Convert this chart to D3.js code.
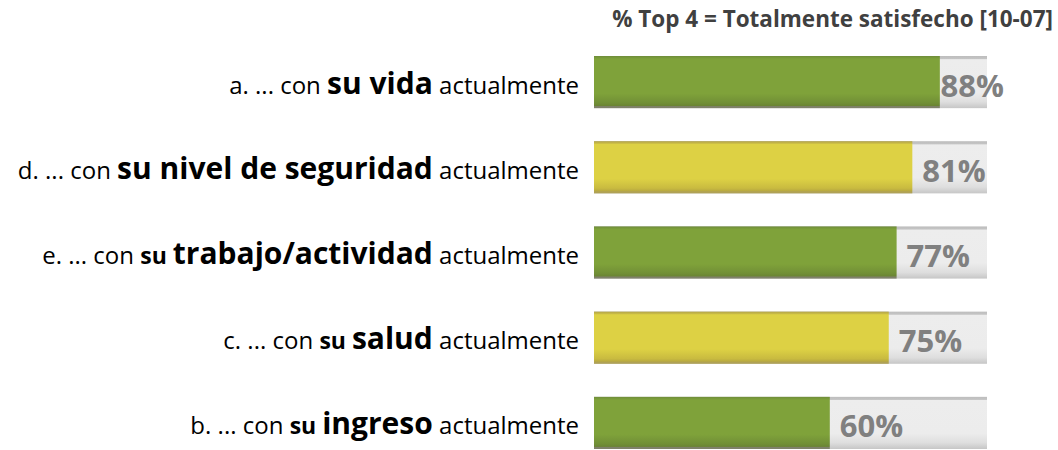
<!DOCTYPE html>
<html><head><meta charset="utf-8">
<script src="https://cdn.jsdelivr.net/npm/d3@7"></script>
<style>body{margin:0;background:#fff}svg{display:block}</style>
</head><body>
<svg id="c" width="1058" height="450"></svg>
<script>
const ids = ["a", "d", "e", "c", "b"];
const prefixes = ["a. ... con ", "d. ... con ", "e. ... con ", "c. ... con ", "b. ... con "];
const smallSu = ["", "", "su ", "su ", "su "];
const keywords = ["su vida", "su nivel de seguridad", "trabajo/actividad", "salud", "ingreso"];
const suffix = " actualmente";
const values = [88, 81, 77, 75, 60];
const groups = ["green", "yellow", "green", "yellow", "green"];
const title = "% Top 4 = Totalmente satisfecho [10-07]";

const svg = d3.select("#c");
const FONT = "'Open Sans', sans-serif";
const x = d3.scaleLinear().domain([0, 100]).range([594, 987]);
const y = d3.scaleBand().domain(ids).range([56, 449]).paddingInner(0.388).paddingOuter(0);
const data = ids.map((id, i) => ({id, i, v: values[i], g: groups[i]}));

const defs = svg.append("defs");
function grad(id, stops) {
  const g = defs.append("linearGradient").attr("id", id).attr("x1", 0).attr("x2", 0).attr("y1", 0).attr("y2", 1);
  stops.forEach(s => g.append("stop").attr("offset", s[0]).attr("stop-color", s[1]));
}
grad("gTrack", [[0, "#bdbdbd"], [0.05, "#c4c4c4"], [0.07, "#ededed"], [0.7, "#ececec"], [0.88, "#dedede"], [1, "#c6c6c6"]]);
grad("gGreen", [[0, "#6f8c3a"], [0.04, "#7a9c3a"], [0.06, "#7fa23a"], [0.72, "#7fa23a"], [0.9, "#718f36"], [0.95, "#6b8534"], [0.97, "#7f816a"], [1, "#7f816a"]]);
grad("gYellow", [[0, "#b3a44a"], [0.04, "#c8ba46"], [0.06, "#ddd144"], [0.72, "#ddd144"], [0.9, "#c9bb40"], [0.95, "#b9aa40"], [0.97, "#b0a255"], [1, "#b0a255"]]);

// title
const t = svg.append("text").attr("x", 1053).attr("y", 27).attr("text-anchor", "end")
  .attr("font-family", FONT).attr("font-weight", 700).attr("font-size", 18).attr("fill", "#404040").text(title);
const tw = t.node().getComputedTextLength();
t.attr("font-size", 18 * 441 / tw);

// tracks
svg.selectAll("rect.track").data(data).join("rect").attr("class", "track")
  .attr("x", x(0)).attr("y", d => y(d.id)).attr("width", x(100) - x(0)).attr("height", y.bandwidth())
  .attr("fill", "url(#gTrack)");
// bars
svg.selectAll("rect.bar").data(data).join("rect").attr("class", "bar")
  .attr("x", x(0)).attr("y", d => y(d.id)).attr("width", d => x(d.v) - x(0)).attr("height", y.bandwidth())
  .attr("fill", d => d.g === "green" ? "url(#gGreen)" : "url(#gYellow)");

// value labels
svg.selectAll("text.val").data(data).join("text").attr("class", "val")
  .attr("y", d => y(d.id) + y.bandwidth() / 2 + 14.5)
  .attr("font-family", FONT).attr("font-weight", 700).attr("font-size", 31).attr("fill", "#808080")
  .text(d => d.v + "%")
  .each(function(d) {
    const w = this.getComputedTextLength();
    let xs = x(d.v) + 10;
    if (xs + w > 1004) xs = 1004 - w;
    d3.select(this).attr("x", xs);
  });

// category labels
const lab = svg.selectAll("text.cat").data(data).join("text").attr("class", "cat")
  .attr("x", 579).attr("y", d => y(d.id) + y.bandwidth() / 2 + 11.5).attr("text-anchor", "end")
  .attr("font-family", FONT).attr("fill", "#000");
lab.append("tspan").attr("font-size", 24).text(d => prefixes[d.i]);
lab.append("tspan").attr("font-size", 23).attr("font-weight", 700).text(d => smallSu[d.i]);
lab.append("tspan").attr("font-size", 30).attr("font-weight", 700).text(d => keywords[d.i]);
lab.append("tspan").attr("font-size", 24).text(suffix);
</script>
</body></html>
